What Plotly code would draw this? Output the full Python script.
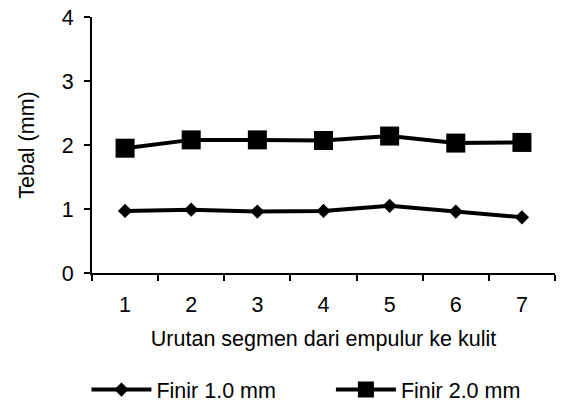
import plotly.graph_objects as go

segments = ["1", "2", "3", "4", "5", "6", "7"]
finir_10 = [0.97, 0.99, 0.96, 0.97, 1.05, 0.96, 0.87]
finir_20 = [1.95, 2.08, 2.08, 2.07, 2.14, 2.03, 2.04]
y_ticks = [0, 1, 2, 3, 4]

FONT = "Liberation Sans, Arial, sans-serif"
FS = 21.5

fig = go.Figure()
fig.add_trace(go.Scatter(
    x=segments, y=finir_10, name="Finir 1.0 mm", mode="lines+markers",
    line=dict(color="black", width=4),
    marker=dict(symbol="diamond", size=11, color="black"),
    legend="legend",
))
fig.add_trace(go.Scatter(
    x=segments, y=finir_20, name="Finir 2.0 mm", mode="lines+markers",
    line=dict(color="black", width=4),
    marker=dict(symbol="square", size=19, color="black"),
    legend="legend2",
))

leg_common = dict(orientation="h", xanchor="left", yref="container", y=0.045,
                  yanchor="middle",
                  font=dict(family=FONT, size=FS, color="black"),
                  itemwidth=60, bgcolor="rgba(0,0,0,0)")

fig.update_layout(
    width=561, height=408,
    margin=dict(l=92, r=6, t=15, b=135),
    paper_bgcolor="white", plot_bgcolor="white",
    font=dict(family=FONT, size=FS, color="black"),
    showlegend=True,
    legend=dict(x=-0.012, **leg_common),
    legend2=dict(x=0.516, **leg_common),
)
fig.update_xaxes(
    type="category", range=[-0.5, 6.5], tickson="boundaries",
    showline=True, linecolor="black", linewidth=2,
    ticks="outside", ticklen=6, tickwidth=2, tickcolor="black",
    tickfont=dict(family=FONT, size=FS, color="black"),
    ticklabelstandoff=11,
    showgrid=False, zeroline=False,
    title=dict(text="Urutan segmen dari empulur ke kulit", standoff=15,
               font=dict(family=FONT, size=FS, color="black")),
)
fig.update_yaxes(
    range=[0, 4], tickvals=y_ticks,
    showline=True, linecolor="black", linewidth=2,
    ticks="outside", ticklen=6, tickwidth=2, tickcolor="black",
    tickfont=dict(family=FONT, size=FS, color="black"),
    ticklabelstandoff=6,
    showgrid=False, zeroline=False,
    title=dict(text="Tebal (mm)", standoff=21,
               font=dict(family=FONT, size=FS, color="black")),
)

fig.write_html("out.html")
